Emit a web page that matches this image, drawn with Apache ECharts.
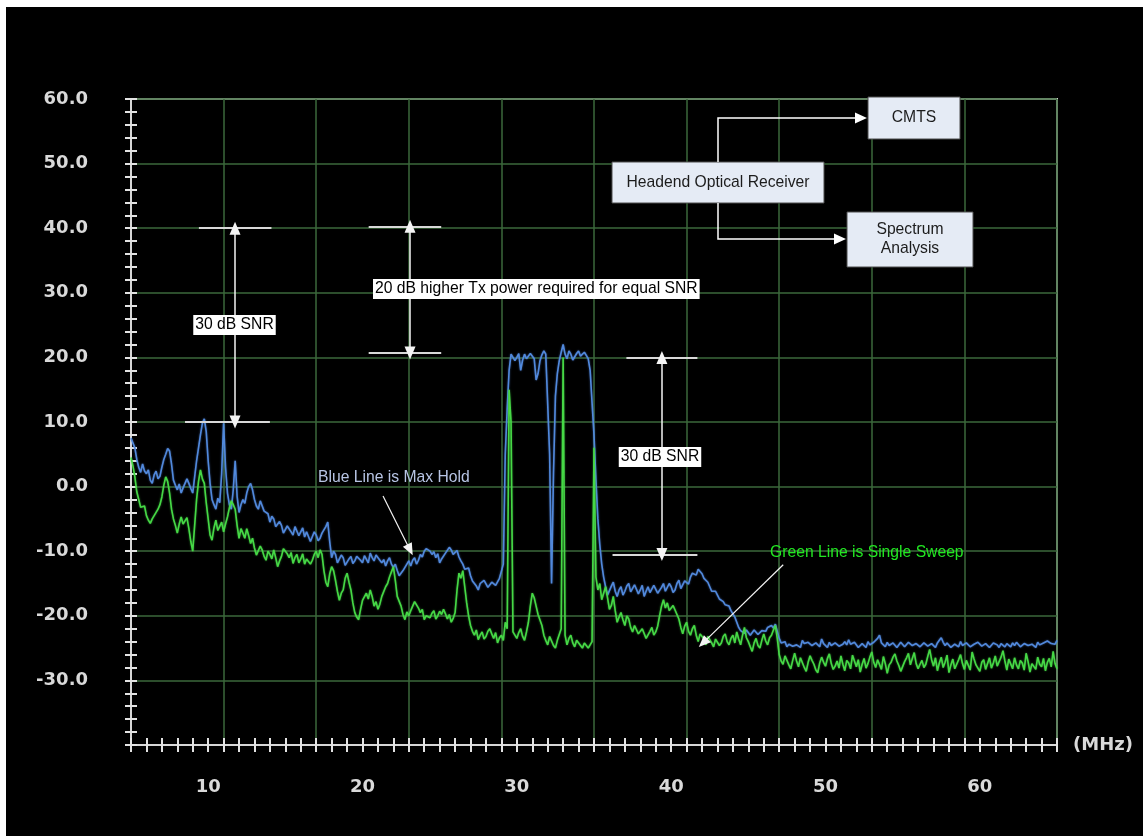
<!DOCTYPE html>
<html>
<head>
<meta charset="utf-8">
<title>Upstream spectrum: Max Hold vs Single Sweep</title>
<script src="https://cdn.jsdelivr.net/npm/echarts@6/dist/echarts.min.js"></script>
<style>
  html, body { margin: 0; padding: 0; background: #ffffff; }
  #chart { position: absolute; left: 6px; top: 7px; width: 1137px; height: 829px; background: #000000; }
</style>
</head>
<body>
<div id="chart"></div>
<script>
// Frequency sampling of both traces (MHz)
const FREQ_START = 5;
const FREQ_STEP = 0.125;

// Max Hold trace (dBmV), one value per FREQ_STEP starting at FREQ_START
const maxHold = [
  7.5, 7.8, 6, 4.2, 3, 2.2, 3.5, 2.4, 2, 2.6,
  1, 0.5, 1.8, 2.4, 1.2, 1.6, 3, 4.2, 5, 5.9,
  5.5, 3.5, 1, 0.2, -0.5, 0.4, -1, -0.2, 0, 1.2,
  0.5, -0.3, -1, 1.5, 4, 6, 8, 9.8, 10.5, 8.5,
  4, 0.5, -2, -2.8, -3.5, -1.8, -2.5, 2, 9.8, 3,
  -1, -2.8, -3.5, -0.5, 4, -1.5, -4, -2.8, -2, -2.6,
  -1, 0, 0.5, -0.5, -2, -3, -3.5, -2.2, -2.5, -3.8,
  -3.5, -4.2, -5.5, -4.6, -5, -6.2, -6.5, -5.4, -6, -7.2,
  -7, -6.1, -6, -7, -7.5, -6.2, -6.5, -7.6, -7, -6.4,
  -7.8, -7, -7.2, -8.5, -8.2, -7, -7.5, -8.4, -8, -7.2,
  -7, -6.2, -5.5, -8.5, -11, -10, -10.5, -11.8, -11.5, -10.6,
  -11, -12.2, -12, -11.2, -10.8, -11.9, -11.5, -10.8, -10.5, -11.4,
  -11.8, -10.7, -11, -11.8, -10.3, -11, -11.5, -10.6, -10.5, -11.4,
  -11.8, -11.3, -12.3, -11.5, -11, -12, -12.5, -12, -13, -13.8,
  -14, -13, -12.5, -12.2, -11.5, -12.3, -11.4, -11, -12, -11.4,
  -10.5, -10.9, -10, -9.6, -9.3, -10, -10.5, -10.1, -11, -10.4,
  -11.8, -11.2, -11, -10.3, -10, -9.4, -9.8, -10.5, -10.3, -9.9,
  -10.9, -11.5, -12, -12.8, -13, -12.6, -13.8, -14.6, -15, -15.4,
  -16, -15, -15.2, -14.5, -14.8, -15.6, -15.5, -14.8, -14.5, -15.3,
  -15, -14.2, -14, -12, 5, 12, 18, 20.5, 20.3, 19.5,
  20, 20.6, 18, 19.6, 20.5, 19.8, 20, 20.6, 20.8, 19.8,
  16.5, 17.5, 19.5, 20.4, 21, 20.5, 20.2, 5, -15, 2,
  14, 17.5, 19.5, 20.8, 22, 20.5, 19.8, 21, 20.5, 19.6,
  19.5, 20.6, 21, 20.2, 20, 20.8, 20.3, 19.8, 18, 13,
  8, 1, -5, -9, -12, -14, -15.5, -16.8, -16.5, -15.4,
  -14.8, -16.2, -17, -16, -15.5, -16.8, -16.2, -15.4, -15, -16.3,
  -16.5, -15.2, -15.5, -16.6, -16, -15.3, -17, -16.2, -15.5, -16.4,
  -16.5, -15.3, -15.5, -16.5, -16.8, -15.6, -15, -16.2, -16, -15,
  -15.5, -16.4, -16, -15, -14.5, -15.8, -15.5, -14.6, -14.5, -15.1,
  -14, -13.4, -13.2, -13.7, -12.8, -13, -13.5, -14.2, -14.5, -14.8,
  -15.5, -16.2, -16.5, -16.2, -16.8, -17.4, -17.5, -17.8, -18.3, -18,
  -18.5, -19.2, -19.5, -20.2, -21, -21.8, -22.3, -22.4, -22.7, -22.2,
  -22.5, -23, -22.8, -22.2, -22.4, -22.9, -22.6, -22.3, -22, -22.4,
  -21.8, -21.5, -21.5, -21.9, -21.3, -21, -23.5, -24.2, -24.5, -24,
  -24.8, -24.4, -24.2, -24.7, -25, -24.5, -24.4, -24.9, -23.8, -24.3,
  -24.6, -24.1, -24, -24.6, -24.9, -24.2, -24.3, -24.8, -23.6, -24.3,
  -24.5, -24.9, -24.1, -24.6, -24.8, -24.2, -24.3, -24.7, -24.9, -24.4,
  -24, -24.5, -23.7, -24.4, -24.6, -24.1, -24.2, -24.9, -24.8, -24.3,
  -24.4, -24.9, -24.0, -24.5, -24.7, -24.1, -24.2, -23.5, -23.0, -24.2,
  -24.5, -24.8, -24.1, -24.6, -24.8, -24.2, -24.3, -24.9, -24.6, -24.1,
  -24.2, -24.8, -24.7, -24.1, -24.3, -24.6, -24.9, -24.3, -24.4, -24.8,
  -24.6, -24.2, -24.1, -24.7, -24.8, -24.3, -24.5, -24.9, -24.2, -23.8,
  -23.4, -24.1, -24.6, -24.2, -24.3, -24.9, -24.8, -24.4, -24.4, -24.8,
  -24.0, -24.6, -24.7, -24.2, -24.3, -24.8, -24.9, -24.4, -24.5, -24.1,
  -24.2, -24.7, -24.8, -24.3, -24.4, -24.9, -24.6, -24.2, -24.1, -24.5,
  -24.9, -24.3, -24.5, -24.8, -24.3, -24.6, -24.8, -24.2, -24.6, -24.1,
  -24.3, -24.8, -24.7, -24.3, -24.2, -24.6, -24.8, -24.4, -24.5, -24.9,
  -24.1, -24.5, -24.6, -24.2, -24.0, -23.9, -23.6, -24.3, -24.2, -24.4,
  -23.8
];

// Single Sweep trace (dBmV), same frequency sampling
const singleSweep = [
  4.5, 3.2, 1.5, -0.8, -2, -3.2, -3.5, -3, -4.5, -5.2,
  -5.7, -5, -4.5, -4.8, -3.5, -2.8, -1.6, 0.2, 1.5, 0.8,
  -1, -3.5, -5, -6, -7.2, -5.8, -4.7, -5.8, -5.5, -4.8,
  -6.5, -8.5, -10, -6, -2, 0.8, 2.6, 1.2, 0.5, -2.5,
  -5, -7.5, -8.3, -6.4, -5.2, -6.8, -6.5, -5.5, -7, -5.8,
  -4.7, -3.3, -2.2, -2.8, -3.5, -6, -8, -6.5, -7.2, -8,
  -6.5, -7.6, -8.8, -8, -9.5, -10.6, -10.3, -9.2, -9.8, -10.8,
  -11.4, -10, -10.5, -11.2, -9.8, -11, -12.4, -11.5, -10.8, -9.6,
  -9.3, -10.4, -11, -10.2, -11.9, -11, -10.5, -11.8, -11.2, -10.4,
  -12, -11.2, -11, -12, -11.4, -10.5, -10, -11, -9.8, -10.5,
  -13, -14.8, -15.5, -13.5, -12.4, -13, -14.5, -16.2, -17.6, -16.5,
  -16, -14.2, -13.4, -14.8, -16, -18, -19.5, -20.2, -20.6, -19,
  -17.6, -17.9, -16.5, -17.4, -16, -17, -18.5, -17.8, -19, -18.2,
  -17, -16.8, -15.5, -15, -14, -13.2, -12.4, -14.5, -17, -17.3,
  -18.5, -19.8, -20.6, -19.4, -20, -19.2, -18.5, -17.8, -17.6, -18.8,
  -19.5, -19, -20.6, -20, -19.8, -20.3, -19.6, -19.2, -20.5, -20,
  -19.3, -19.8, -19, -19.7, -20.5, -19.8, -21, -20.4, -19.5, -16,
  -13.4, -14.2, -13, -15.5, -18, -20, -21.5, -22.4, -23, -22.2,
  -23.7, -23, -22.5, -23.6, -23.2, -22.4, -22, -22.8, -23.5, -22.6,
  -24.2, -23.4, -23, -23.8, -21, -22, 15, 10, -22.5, -23,
  -23.5, -22.6, -22, -23.2, -23.8, -22.5, -21, -18.5, -16.5, -17.2,
  -18.5, -19.8, -19.6, -21.5, -23, -23.8, -24.5, -23.2, -23.5, -24.6,
  -25, -23.8, -24, -22, 20, -23, -24.5, -23.5, -23, -24.2,
  -24.8, -23.8, -23.5, -24.6, -25, -24.2, -24, -25, -25.3, -24,
  6, -14, -16, -15, -17.5, -16.5, -15.5, -17.2, -19, -18.4,
  -17, -19.2, -21, -20.2, -19.5, -20.6, -21.5, -20, -20.5, -21.8,
  -22.5, -21.5, -21.8, -22.8, -23, -22, -22.2, -23.5, -23.3, -22.4,
  -21.8, -23, -22.5, -21.6, -20, -18.5, -17.5, -18.8, -18, -19.2,
  -19.5, -18.4, -18.6, -19.8, -20.5, -21.8, -22.8, -21.6, -21, -22.4,
  -23, -22, -21.5, -23, -24, -22.8, -22.5, -23.6, -24.5, -23.2,
  -23, -24.2, -24.8, -23.6, -23.5, -24.6, -24.2, -23.2, -22.8, -24,
  -24.5, -23.5, -23, -24.2, -22.5, -23.6, -24.5, -23, -21.8, -23.4,
  -24, -24.8, -25.5, -24.2, -23.5, -24.6, -25, -23.8, -22.8, -23.9,
  -24.5, -23.4, -23, -22.2, -21.5, -23.5, -26, -27, -27.5, -26.2,
  -26.5, -27.6, -28.2, -26.9, -25.8, -27, -27.9, -26.5, -26.8, -28,
  -28.6, -27.2, -26.2, -26.9, -27.5, -28.4, -28.8, -27.3, -26.4, -27.2,
  -27.8, -26.6, -25.9, -27.4, -28.3, -27.8, -27, -28.1, -26.2, -27.5,
  -28.5, -26.9, -27.3, -28.2, -26.1, -27, -27.9, -26.8, -28.7, -27.5,
  -26.6, -28.1, -27.4, -26.4, -25.6, -27.2, -28, -26.8, -27.1, -28.3,
  -26.3, -27.4, -28.9, -27.6, -27.2, -26.4, -25.9, -27, -27.7, -28.6,
  -28.4, -27.1, -26.5, -25.8, -27.6, -26.6, -25.7, -27.4, -28.2, -27.5,
  -26.9, -28, -27.5, -26.3, -25.2, -26.8, -27.8, -26.5, -28.5, -27.3,
  -26.4, -28, -27.2, -26.1, -28.8, -27.6, -26.7, -28.2, -27.9, -26.8,
  -26, -27.4, -28.3, -26.9, -27.1, -28.4, -25.6, -26.7, -27.6, -28.1,
  -28.6, -27.2, -26.8, -28.3, -27.4, -26.5, -28.1, -27.3, -26.2, -27.8,
  -27.7, -26.4, -25.4, -27, -28.4, -26.7, -27, -28.2, -26.5, -27.6,
  -28.2, -26.9, -27.3, -28.4, -25.8, -27.1, -28.7, -27.4, -27.1, -28.3,
  -26.4, -27.5, -27.9, -26.6, -28.5, -27.2, -26.6, -27.9, -25.5, -27.4,
  -28.2
];

// Axis tick labels
const freqLabels = [10, 20, 30, 40, 50, 60];
const levelLabels = [60, 50, 40, 30, 20, 10, 0, -10, -20, -30];

// Reference levels (MHz, dBmV) for the SNR brackets
const snrBrackets = [
  { f: 11.74, top: 40, bottom: 10, topSpan: [9.4, 14.1], bottomSpan: [8.5, 14.0] },
  { f: 23.08, top: 40.3, bottom: 20.7, topSpan: [20.4, 25.1], bottomSpan: [20.4, 25.1] },
  { f: 39.4, top: 20, bottom: -10.5, topSpan: [37.1, 41.7], bottomSpan: [36.2, 41.7] }
];

// Pointer arrows from the trace captions to the traces
const pointers = [
  { from: [21.33, -1.45], to: [23.08, -9.81] },
  { from: [47.26, -12.1], to: [42.07, -24.2] }
];

const toPairs = arr => arr.map((v, i) => [FREQ_START + i * FREQ_STEP, v]);
const isListed = (list, v) => list.includes(Math.round(v * 1000) / 1000);

const LABEL_COLOR = '#d9d9d9';
const AXIS_COLOR = '#d6d6d6';
const TICK_COLOR = '#e2e2e2';
const GRID_GREEN = '#3b683b';
const TICK_FONT = { color: LABEL_COLOR, fontFamily: 'DejaVu Sans', fontWeight: 'bold', fontSize: 18 };
const NOTE_FONT = '15.7px "Liberation Sans", Arial, sans-serif';

const chart = echarts.init(document.getElementById('chart'), null, { renderer: 'canvas' });

const segLines = [];
const dblArrows = [];
snrBrackets.forEach(b => {
  segLines.push([{ coord: [b.topSpan[0], b.top] }, { coord: [b.topSpan[1], b.top] }]);
  segLines.push([{ coord: [b.bottomSpan[0], b.bottom] }, { coord: [b.bottomSpan[1], b.bottom] }]);
  dblArrows.push([{ coord: [b.f, b.top] }, { coord: [b.f, b.bottom] }]);
});
const ptrLines = pointers.map(p => [{ coord: p.from }, { coord: p.to }]);

// plain axis used only for a set of tick marks or grid lines
function bareAxis(min, max, interval, tickInside, tickLen, withGrid) {
  return {
    type: 'value', min: min, max: max, interval: interval, offset: 0,
    axisLine: { show: false, onZero: false },
    axisTick: { show: tickLen > 0, inside: tickInside, length: tickLen, lineStyle: { color: TICK_COLOR, width: 2 } },
    axisLabel: { show: false },
    splitLine: { show: withGrid, lineStyle: { color: GRID_GREEN, width: 1.5 } }
  };
}

chart.setOption({
  animation: false,
  backgroundColor: '#000000',
  grid: { left: 125, top: 92, width: 926, height: 646, show: true,
    borderColor: AXIS_COLOR, borderWidth: 2, backgroundColor: 'transparent' },
  xAxis: [
    {
      type: 'value', min: 5, max: 65, interval: 1, position: 'bottom', offset: 0,
      axisLine: { show: true, onZero: false, lineStyle: { color: AXIS_COLOR, width: 2 } },
      axisTick: { show: true, inside: false, length: 7, lineStyle: { color: TICK_COLOR, width: 2 } },
      axisLabel: Object.assign({ margin: 33, formatter: v => isListed(freqLabels, v) ? String(v) : '' }, TICK_FONT),
      splitLine: { show: false },
      name: '(MHz)', nameLocation: 'end', nameGap: 16,
      nameTextStyle: Object.assign({ padding: [0, 0, 6, 0] }, TICK_FONT)
    },
    Object.assign(bareAxis(5, 65, 1, true, 7, false), { position: 'bottom' }),
    Object.assign(bareAxis(0, 60, 6, false, 0, true), { position: 'bottom' })
  ],
  yAxis: [
    {
      type: 'value', min: -40, max: 60, interval: 2, position: 'left', offset: 0,
      axisLine: { show: true, onZero: false, lineStyle: { color: AXIS_COLOR, width: 2 } },
      axisTick: { show: true, inside: false, length: 6, lineStyle: { color: TICK_COLOR, width: 2 } },
      axisLabel: Object.assign({ margin: 43, formatter: v => isListed(levelLabels, v) ? v.toFixed(1) : '' }, TICK_FONT),
      splitLine: { show: false }
    },
    Object.assign(bareAxis(-40, 60, 2, true, 6, false), { position: 'left' }),
    Object.assign(bareAxis(-40, 60, 10, false, 0, true), { position: 'left' })
  ],
  series: [
    {
      name: 'Max Hold', type: 'line', xAxisIndex: 0, yAxisIndex: 0,
      data: toPairs(maxHold), showSymbol: false, symbol: 'none',
      lineStyle: { color: '#5189dc', width: 1.6, shadowColor: 'rgba(90,140,230,0.6)', shadowBlur: 2 },
      z: 3
    },
    {
      name: 'Single Sweep', type: 'line', xAxisIndex: 0, yAxisIndex: 0,
      data: toPairs(singleSweep), showSymbol: false, symbol: 'none',
      lineStyle: { color: '#46d846', width: 1.6, shadowColor: 'rgba(70,220,70,0.6)', shadowBlur: 2 },
      z: 4
    },
    {
      name: 'levels', type: 'line', xAxisIndex: 0, yAxisIndex: 0, data: [], z: 5,
      markLine: { silent: true, symbol: ['none', 'none'], label: { show: false },
        lineStyle: { color: '#d8d8d8', width: 2, type: 'solid' }, data: segLines }
    },
    {
      name: 'brackets', type: 'line', xAxisIndex: 0, yAxisIndex: 0, data: [], z: 6,
      markLine: { silent: true, symbol: ['triangle', 'triangle'], symbolSize: [11, 13], label: { show: false },
        lineStyle: { color: '#f4f4f4', width: 1.5, type: 'solid' }, data: dblArrows }
    },
    {
      name: 'pointers', type: 'line', xAxisIndex: 0, yAxisIndex: 0, data: [], z: 6,
      markLine: { silent: true, symbol: ['none', 'triangle'], symbolSize: [10, 12], label: { show: false },
        lineStyle: { color: '#f4f4f4', width: 1.2, type: 'solid' }, data: ptrLines }
    }
  ]
});

// Notes, caption texts and the signal-path diagram
function noteBox(x, y, text, align) {
  return {
    type: 'text', x: x, y: y, z: 20,
    style: { text: text, font: NOTE_FONT, fill: '#000000', backgroundColor: '#ffffff',
      padding: [2, 2, 2, 2], align: align || 'center', verticalAlign: 'middle' }
  };
}
function diagBox(x, y, w, h, text) {
  return {
    type: 'group', z: 20,
    children: [
      { type: 'rect', shape: { x: x, y: y, width: w, height: h },
        style: { fill: '#e5ebf5', stroke: '#4c4c4c', lineWidth: 1 } },
      { type: 'text', x: x + w / 2, y: y + h / 2,
        style: { text: text, font: NOTE_FONT, fill: '#1c1c1c', align: 'center', verticalAlign: 'middle', lineHeight: 19 } }
    ]
  };
}

chart.setOption({
  graphic: [
    noteBox(228.5, 318, '30 dB SNR'),
    noteBox(367, 282, '20 dB higher Tx power required for equal SNR', 'left'),
    noteBox(654, 450, '30 dB SNR'),
    { type: 'text', x: 312, y: 471, z: 20,
      style: { text: 'Blue Line is Max Hold', font: NOTE_FONT, fill: '#b7c4e4', align: 'left', verticalAlign: 'middle' } },
    { type: 'text', x: 764, y: 546, z: 20,
      style: { text: 'Green Line is Single Sweep', font: NOTE_FONT, fill: '#22e622', align: 'left', verticalAlign: 'middle' } },
    { type: 'polyline', z: 19, shape: { points: [[712, 155], [712, 111], [853, 111]] },
      style: { stroke: '#ffffff', lineWidth: 1.5, fill: null } },
    { type: 'polygon', z: 19, shape: { points: [[861, 111], [849, 105.5], [849, 116.5]] }, style: { fill: '#ffffff' } },
    { type: 'polyline', z: 19, shape: { points: [[712, 196], [712, 232], [832, 232]] },
      style: { stroke: '#ffffff', lineWidth: 1.5, fill: null } },
    { type: 'polygon', z: 19, shape: { points: [[840, 232], [828, 226.5], [828, 237.5]] }, style: { fill: '#ffffff' } },
    diagBox(862, 90, 92, 42, 'CMTS'),
    diagBox(606, 155, 212, 41, 'Headend Optical Receiver'),
    diagBox(841, 205, 126, 55, 'Spectrum\nAnalysis')
  ]
});
</script>
</body>
</html>
